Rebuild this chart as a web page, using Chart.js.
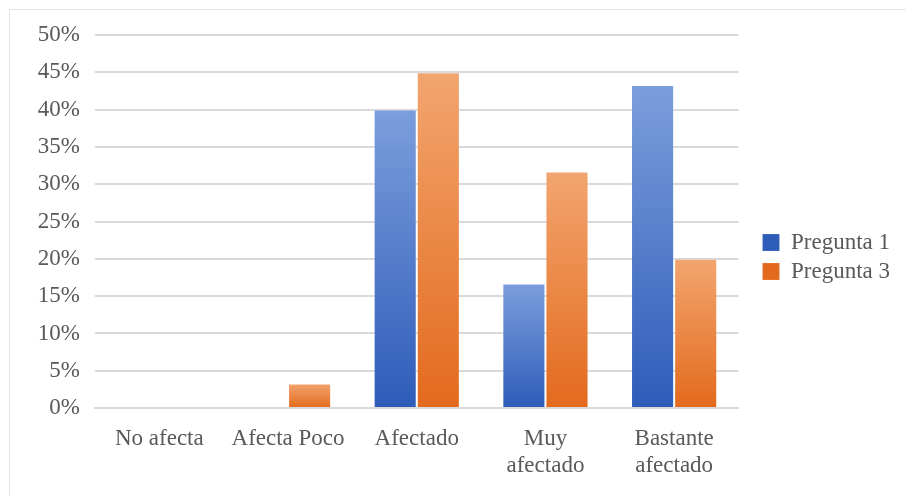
<!DOCTYPE html>
<html>
<head>
<meta charset="utf-8">
<script src="https://cdn.jsdelivr.net/npm/chart.js@4"></script>
<style>
  body { margin: 0; background: #fff; }
  #frame { position: absolute; left: 9px; top: 9px; width: 897px; height: 487px;
           border-top: 1px solid #e4e4e4; border-left: 1px solid #e4e4e4; }
  #wrap { position: absolute; left: 0; top: 0; width: 906px; height: 496px; }
</style>
</head>
<body>
<div id="frame"></div>
<div id="wrap"><canvas id="chart" width="906" height="496"></canvas></div>
<script>
const categories = ['No afecta', 'Afecta Poco', 'Afectado', ['Muy', 'afectado'], ['Bastante', 'afectado']];
const pregunta1 = [0, 0, 40, 16.7, 43.3];
const pregunta3 = [0, 3.3, 45, 31.7, 20];

// per-bar vertical gradient, lighter at the top
function barGradient(top, bottom) {
    return (context) => {
        const chart = context.chart;
        const { ctx, scales: { y } } = chart;
        if (!y || context.type !== 'data') return bottom;
        const v = context.parsed ? context.parsed.y : 0;
        const y0 = y.getPixelForValue(v);
        const y1 = y.getPixelForValue(0);
        if (!isFinite(y0) || !isFinite(y1) || y0 === y1) return bottom;
        const g = ctx.createLinearGradient(0, y0, 0, y1);
        g.addColorStop(0, top);
        g.addColorStop(1, bottom);
        return g;
    };
}

// push the legend a bit away from the plot area
const legendGap = {
    id: 'legendGap',
    afterInit(chart, args, options) {
        const legend = chart.legend;
        const fit = legend.fit;
        legend.fit = function () { fit.call(this); this.width += options.gap; };
        const draw = legend.draw;
        legend.draw = function () {
            const ctx = this.ctx;
            ctx.save();
            ctx.translate(options.gap, options.shiftY);
            draw.call(this);
            ctx.restore();
        };
    }
};

const font = { family: '"Liberation Serif", "Times New Roman", serif', size: 23, lineHeight: 1.15 };

new Chart(document.getElementById('chart'), {
    type: 'bar',
    data: {
        labels: categories,
        datasets: [
            {
                label: 'Pregunta 1',
                data: pregunta1,
                backgroundColor: barGradient('#7b9edc', '#2e5cb9'),
                borderColor: 'rgba(255,255,255,0.15)',
                borderWidth: 1
            },
            {
                label: 'Pregunta 3',
                data: pregunta3,
                backgroundColor: barGradient('#f2a56f', '#e36a1d'),
                borderColor: 'rgba(255,255,255,0.15)',
                borderWidth: 1
            }
        ]
    },
    options: {
        responsive: false,
        animation: false,
        layout: { padding: { left: 10, right: 6, top: 35, bottom: 7 } },
        datasets: {
            bar: { barPercentage: 1, categoryPercentage: 0.67 }
        },
        plugins: {
            tooltip: { enabled: false },
            legendGap: { gap: 18, shiftY: -5 },
            legend: {
                position: 'right',
                labels: {
                    font: font,
                    color: '#595959',
                    boxWidth: 17,
                    boxHeight: 17,
                    padding: 6
                }
            }
        },
        scales: {
            x: {
                grid: { display: false },
                border: { color: '#d9d9d9', width: 2 },
                ticks: { font: font, color: '#595959', maxRotation: 0, padding: 10 }
            },
            y: {
                min: 0,
                max: 50,
                border: { display: false },
                grid: { color: '#d9d9d9', lineWidth: 2, drawTicks: false },
                afterFit: (scale) => { scale.width = 85; },
                ticks: {
                    stepSize: 5,
                    font: font,
                    color: '#595959',
                    padding: 15,
                    callback: (v) => v + '%'
                }
            }
        }
    },
    plugins: [legendGap]
});
</script>
</body>
</html>
